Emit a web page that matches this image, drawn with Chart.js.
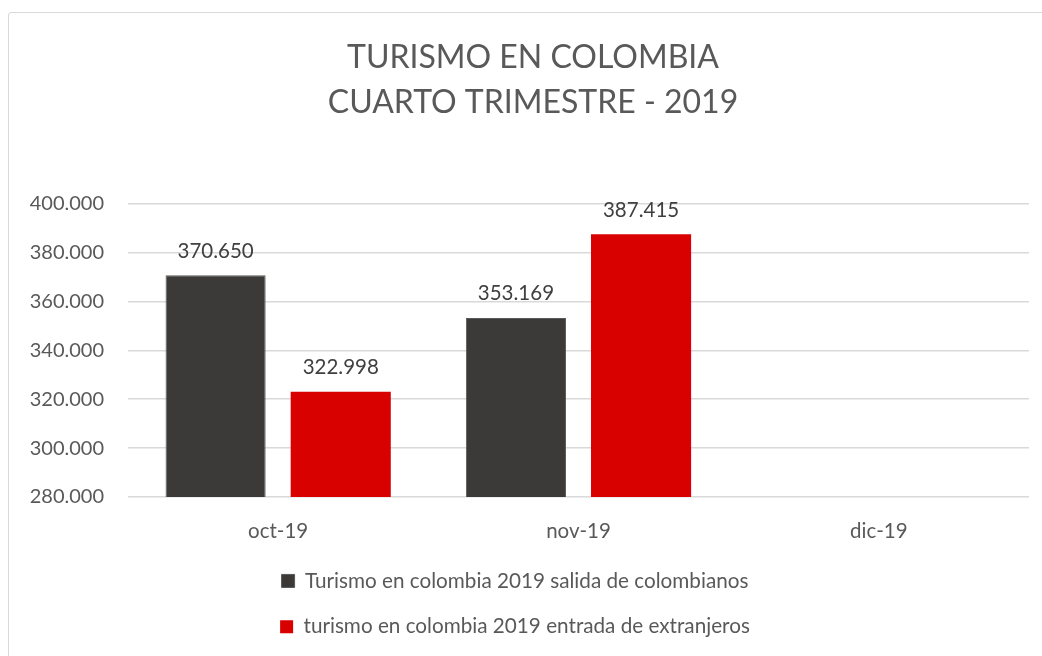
<!DOCTYPE html>
<html>
<head>
<meta charset="utf-8">
<script src="https://cdn.jsdelivr.net/npm/chart.js@4"></script>
<style>
    body { margin: 0; background: #fff; overflow: hidden; }
    #marco {
        position: absolute; left: 8px; top: 12px;
        width: 1050px; height: 660px;
        border: 1px solid #d9d9d9; border-radius: 3px;
    }
    #lienzo { position: relative; width: 1050px; height: 634px; }
</style>
</head>
<body>
<div id="marco"><div id="lienzo"><canvas id="turismo-grafica"></canvas></div></div>
<script>
const meses = ['oct-19', 'nov-19', 'dic-19'];
const salidaColombianos = [370650, 353169, null];
const entradaExtranjeros = [322998, 387415, null];
const nombresSeries = [
    'Turismo en colombia 2019 salida de colombianos',
    'turismo en colombia 2019 entrada de extranjeros'
];
const tituloLineas = ['TURISMO EN COLOMBIA', 'CUARTO TRIMESTRE - 2019'];
const ejeMin = 280000;
const ejeMax = 400000;
const ejePaso = 20000;

const fuente = 'Lato, "Open Sans", sans-serif';

function formatoMiles(valor){
    return String(valor).replace(/\B(?=(\d{3})+(?!\d))/g, '.');
}

// etiquetas de valor encima de cada barra
const etiquetasValor = {
    id: 'etiquetasValor',
    afterDatasetsDraw(chart){
        const ctx = chart.ctx;
        ctx.save();
        ctx.font = '20.5px ' + fuente;
        ctx.fillStyle = '#404040';
        ctx.textAlign = 'center';
        ctx.textBaseline = 'bottom';
        chart.data.datasets.forEach((ds, i) => {
            chart.getDatasetMeta(i).data.forEach((barra, j) => {
                if(ds.data[j] == null) return;
                ctx.fillText(formatoMiles(ds.data[j]), barra.x, barra.y - 14);
            });
        });
        ctx.restore();
    }
};

// titulo y leyenda centrados como en el original
const moverCajas = {
    id: 'moverCajas',
    afterLayout(chart){
        const l = chart.legend;
        const centro = 506;
        l.left = centro - 450;
        l.right = centro + 450;
        const t = chart.titleBlock;
        t.left = 0;
        t.right = 1048;
    }
};

const ctx = document.getElementById('turismo-grafica').getContext('2d');

new Chart(ctx, {
    type: 'bar',
    data: {
        labels: meses,
        datasets: [{
            label: nombresSeries[0],
            data: salidaColombianos,
            backgroundColor: '#3b3a38',
            borderColor: '#5a5957',
            borderWidth: 1
        }, {
            label: nombresSeries[1],
            data: entradaExtranjeros,
            backgroundColor: '#d90000',
            borderWidth: 0
        }]
    },
    options: {
        responsive: true,
        maintainAspectRatio: false,
        animation: false,
        categoryPercentage: 0.8333,
        barPercentage: 0.8,
        layout: {
            padding: { left: 0, right: 30, top: 0, bottom: 0 }
        },
        scales: {
            x: {
                grid: { display: false },
                border: { display: false },
                ticks: {
                    color: '#595959',
                    font: { family: fuente, size: 20.5 },
                    padding: 14
                },
                afterFit: escala => { escala.height -= 12; }
            },
            y: {
                min: ejeMin,
                max: ejeMax,
                grid: { color: '#d9d9d9', lineWidth: 1.5, drawTicks: false },
                border: { display: false },
                ticks: {
                    stepSize: ejePaso,
                    color: '#595959',
                    font: { family: fuente, size: 20 },
                    padding: 24,
                    callback: valor => formatoMiles(valor)
                },
                afterFit: escala => { escala.width = 119; }
            }
        },
        plugins: {
            title: {
                display: true,
                text: tituloLineas,
                color: '#595959',
                font: { family: fuente, size: 32, weight: 'normal', lineHeight: 1.4 },
                padding: { top: 22, bottom: 79 }
            },
            legend: {
                position: 'bottom',
                fullSize: false,
                labels: {
                    color: '#595959',
                    font: { family: fuente, size: 20.7 },
                    boxWidth: 13,
                    boxHeight: 13,
                    padding: 25
                }
            },
            tooltip: { enabled: false }
        }
    },
    plugins: [etiquetasValor, moverCajas]
});
</script>
</body>
</html>
